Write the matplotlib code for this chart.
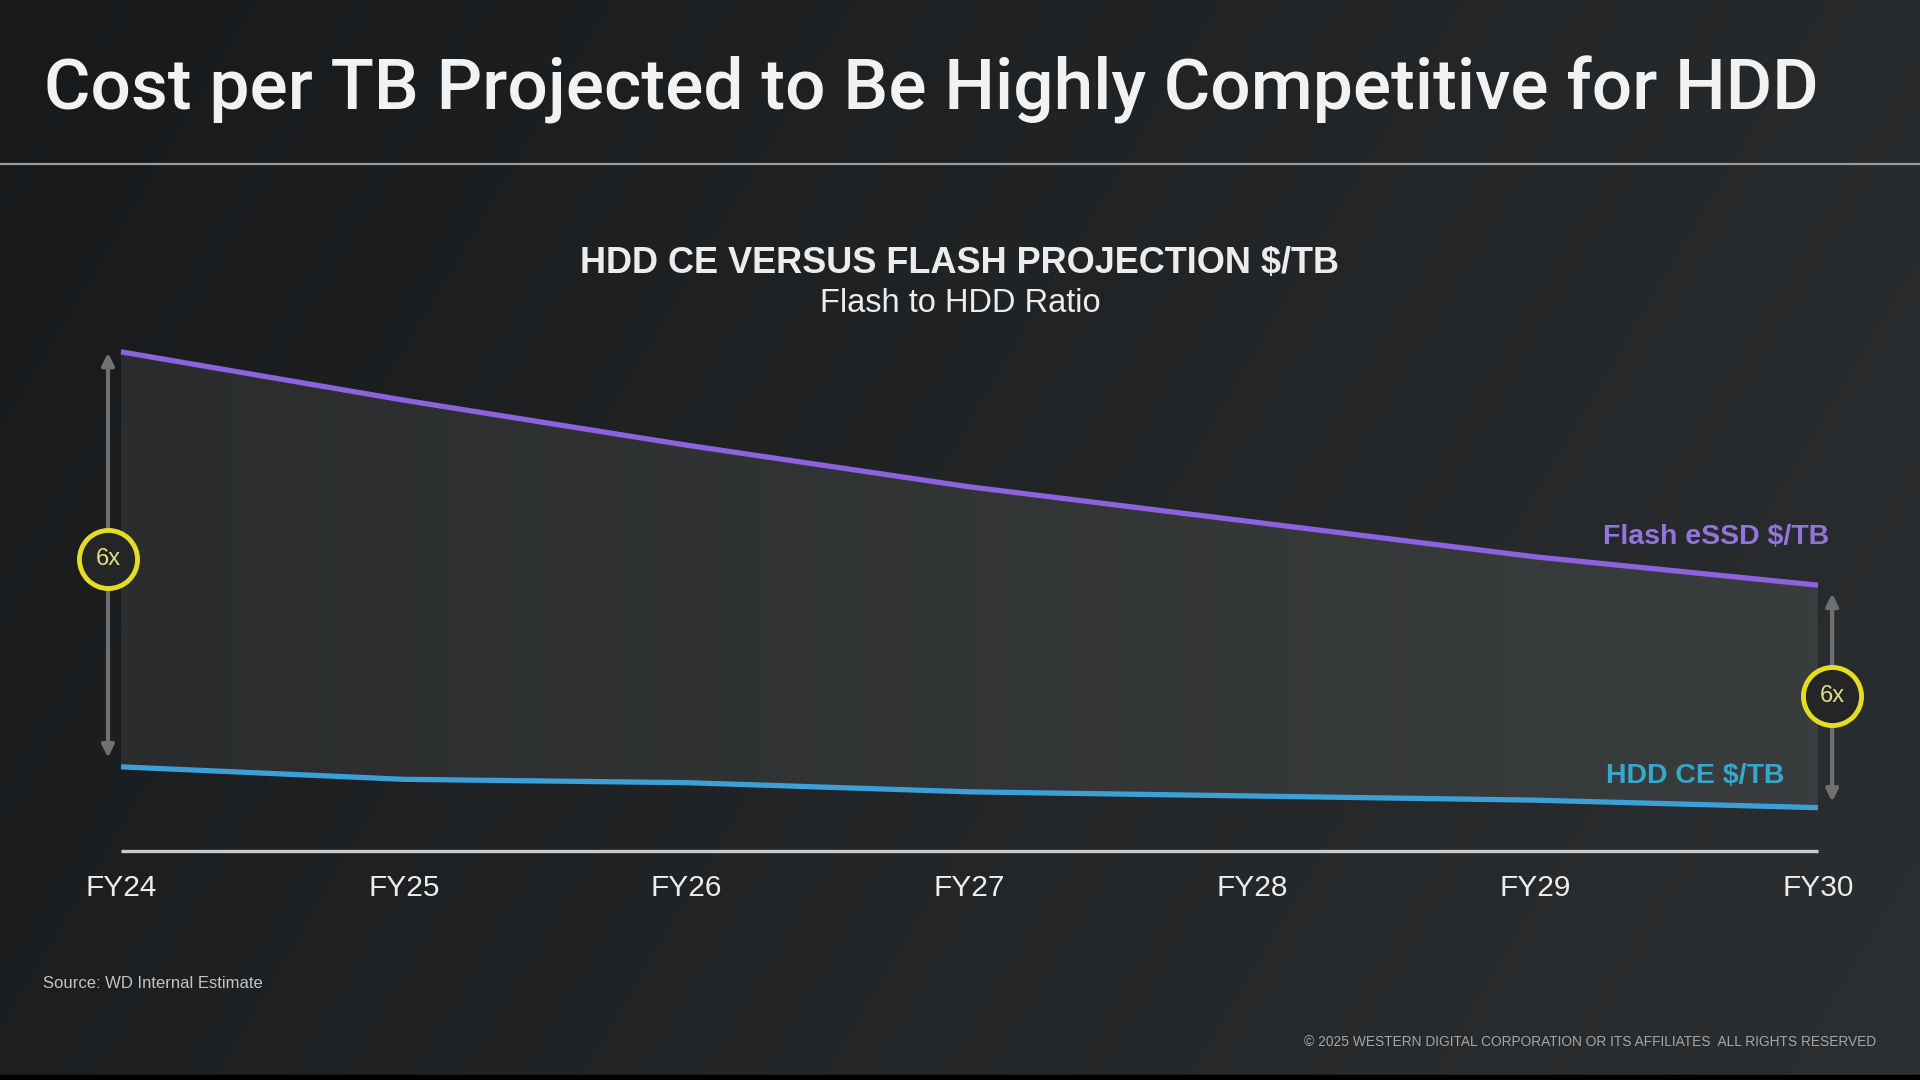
import numpy as np
import matplotlib
matplotlib.use("Agg")
import matplotlib.pyplot as plt
from matplotlib.colors import LinearSegmentedColormap

# ---------------- data ----------------
years = ["FY24", "FY25", "FY26", "FY27", "FY28", "FY29", "FY30"]
flash_cost = [59.9, 54.1, 48.7, 43.7, 39.5, 35.3, 31.9]   # Flash eSSD $/TB (relative)
hdd_cost = [10.1, 8.6, 8.2, 7.1, 6.6, 6.1, 5.2]            # HDD CE $/TB (relative)
ratio_labels = ["6x", "6x"]

title = "Cost per TB Projected to Be Highly Competitive for HDD"
chart_title = "HDD CE VERSUS FLASH PROJECTION $/TB"
chart_subtitle = "Flash to HDD Ratio"
source = "Source: WD Internal Estimate"
copyright_txt = "\u00a9 2025 WESTERN DIGITAL CORPORATION OR ITS AFFILIATES  ALL RIGHTS RESERVED"

# ---------------- style ----------------
FONT = ["Liberation Sans", "DejaVu Sans"]
plt.rcParams["font.family"] = FONT
TITLE_FONT = dict(family=["Roboto", "Liberation Sans"], fontsize=51.3, fontweight="medium")

FLASH_C = "#8c62df"
HDD_C = "#3c9fd8"
FLASH_LBL = "#9274db"
HDD_LBL = "#35a8cc"
ARROW_C = "#6f7071"
RING_C = "#e4dc25"
TXT_C = "#ececec"

fig = plt.figure(figsize=(19.2, 10.8), dpi=100)
ax = fig.add_axes([0, 0, 1, 1])
xlim = (-0.4278, 6.3607)
ylim = (-27.48, 102.12)
ax.set_xlim(*xlim)
ax.set_ylim(*ylim)
ax.axis("off")

# background gradient
gx = np.linspace(0, 1, 400)
gy = np.linspace(0, 1, 200)
GX, GY = np.meshgrid(gx, gy)
bg = 0.75 * GX + 0.25 * GY
bg_cmap = LinearSegmentedColormap.from_list("bg", ["#17191b", "#2c2f31"])
ax.imshow(bg, extent=(*xlim, *ylim), origin="upper", cmap=bg_cmap,
          aspect="auto", zorder=0, interpolation="bicubic")
# black strip at the very bottom
ax.axhspan(ylim[0], ylim[0] + 0.6, color="black", zorder=0.5)

x = np.arange(len(years))

# filled band between lines with gradient
band = ax.fill_between(x, hdd_cost, flash_cost, color="none", zorder=1)
fx = np.linspace(0, 1, 300)[None, :]
fill_cmap = LinearSegmentedColormap.from_list("fill", ["#2a2c2e", "#3a3d3e"])
im = ax.imshow(np.repeat(fx, 10, axis=0), extent=(x[0], x[-1], min(hdd_cost), max(flash_cost)),
               cmap=fill_cmap, aspect="auto", zorder=1, interpolation="bicubic")
im.set_clip_path(band.get_paths()[0], transform=ax.transData)

# lines
ax.plot(x, flash_cost, color=FLASH_C, lw=3.8, solid_capstyle="butt", zorder=3)
ax.plot(x, hdd_cost, color=HDD_C, lw=3.8, solid_capstyle="butt", zorder=3)

# baseline axis
ax.plot([x[0], x[-1]], [0, 0], color="#c9cacb", lw=2.4, zorder=3, solid_capstyle="butt")

# tick labels
for xi, lab in zip(x, years):
    ax.text(xi, -4.45, lab, ha="center", va="center", fontsize=21.5, color=TXT_C)

# series labels
ax.text(6.04, flash_cost[-1] + 5.8, "Flash eSSD $/TB", ha="right", va="center",
        fontsize=20.5, color=FLASH_LBL, fontweight="bold")
ax.text(5.88, hdd_cost[-1] + 3.75, "HDD CE $/TB", ha="right", va="center",
        fontsize=20.5, color=HDD_LBL, fontweight="bold")

# ratio arrows and badges
arrow_x = [-0.046, 6.05]
ends = [(flash_cost[0], hdd_cost[0]), (flash_cost[-1], hdd_cost[-1])]
gaps = [(0.1, 1.1), (1.0, 0.7)]
for ax_x, (top, bot), (g1, g2), lab in zip(arrow_x, ends, gaps, ratio_labels):
    ax.annotate("", xy=(ax_x, top - g1), xytext=(ax_x, bot + g2),
                arrowprops=dict(arrowstyle="<|-|>", color=ARROW_C, lw=3,
                                mutation_scale=18, shrinkA=0, shrinkB=0),
                zorder=4)
    mid = (top + bot) / 2
    ax.scatter([ax_x], [mid], s=1750, facecolor="#232527", edgecolor=RING_C,
               linewidths=3.5, zorder=5)
    ax.text(ax_x, mid, lab, ha="center", va="center", fontsize=17,
            color="#e6df80", zorder=6)

# header
fig.text(44 / 1920, 1 - 90 / 1080, title, ha="left", va="center",
         color="#f2f2f2", **TITLE_FONT)
fig.add_artist(plt.Line2D([0, 1], [1 - 164 / 1080] * 2, color="#9a9b9c", lw=1.6))
fig.text(0.5, 1 - 264 / 1080, chart_title, ha="center", va="center", fontsize=26,
         color=TXT_C, fontweight="bold")
fig.text(0.5, 1 - 303 / 1080, chart_subtitle, ha="center", va="center", fontsize=23.5,
         color=TXT_C)

# footer
fig.text(43 / 1920, 1 - 983 / 1080, source, ha="left", va="center", fontsize=12,
         color="#c4c4c4")
fig.text(1876 / 1920, 1 - 1042 / 1080, copyright_txt, ha="right", va="center",
         fontsize=9.9, color="#a6a6a6")

fig.savefig("out.png", dpi=100, facecolor="#1b1d1f")
